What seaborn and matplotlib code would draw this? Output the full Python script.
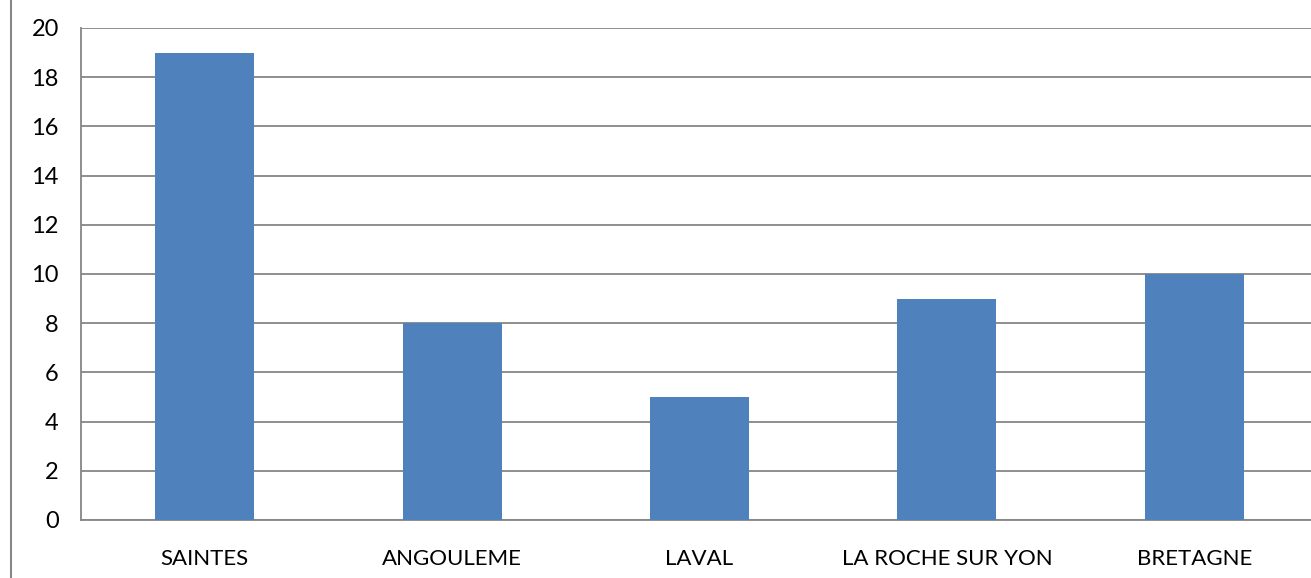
import matplotlib
matplotlib.use("Agg")
import matplotlib.pyplot as plt
import seaborn as sns
import pandas as pd
import numpy as np
from matplotlib.lines import Line2D

# data
villes = ["SAINTES", "ANGOULEME", "LAVAL", "LA ROCHE SUR YON", "BRETAGNE"]
valeurs = [19, 8, 5, 9, 10]
y_ticks = [0, 2, 4, 6, 8, 10, 12, 14, 16, 18, 20]

df = pd.DataFrame({"ville": villes, "valeur": valeurs})

sns.set_style("white")
plt.rcParams["font.family"] = ["Lato", "DejaVu Sans"]

W, H = 1311, 578
fig = plt.figure(figsize=(W / 100, H / 100), dpi=100)
ax = fig.add_axes([81 / W, (H - 520) / H, (1318 - 81) / W, (520 - 28) / H])

grid_col = "#868686"
sns.barplot(data=df, x="ville", y="valeur", color="#4F81BD", width=0.4,
            saturation=1, ax=ax, zorder=3, edgecolor="#4F81BD", linewidth=0)

ax.set_xlim(-0.5, len(villes) - 0.5)
ax.set_ylim(0, 20)
ax.set_yticks(y_ticks)
ax.yaxis.grid(True, color=grid_col, linewidth=1.3, zorder=0)
ax.set_axisbelow(True)

# category boundary ticks
ax.set_xticks(np.arange(len(villes)))
ax.set_xticks(np.arange(len(villes) + 1) - 0.5, minor=True)
ax.tick_params(axis="x", which="major", length=0, labelsize=16, pad=21, colors="black")
ax.tick_params(axis="x", which="minor", length=8, width=1.3, color=grid_col, direction="out")
ax.tick_params(axis="y", length=8, width=1.3, color=grid_col, direction="out",
               labelsize=17, pad=8, labelcolor="black")
ax.set_xlabel("")
ax.set_ylabel("")

for side in ["top", "right"]:
    ax.spines[side].set_visible(False)
for side in ["left", "bottom"]:
    ax.spines[side].set_color(grid_col)
    ax.spines[side].set_linewidth(1.3)

# left border of the chart area
fig.add_artist(Line2D([11 / W, 11 / W], [0, 1], color="#888888", linewidth=1.5,
                      transform=fig.transFigure))

fig.savefig("out.png", dpi=100)
